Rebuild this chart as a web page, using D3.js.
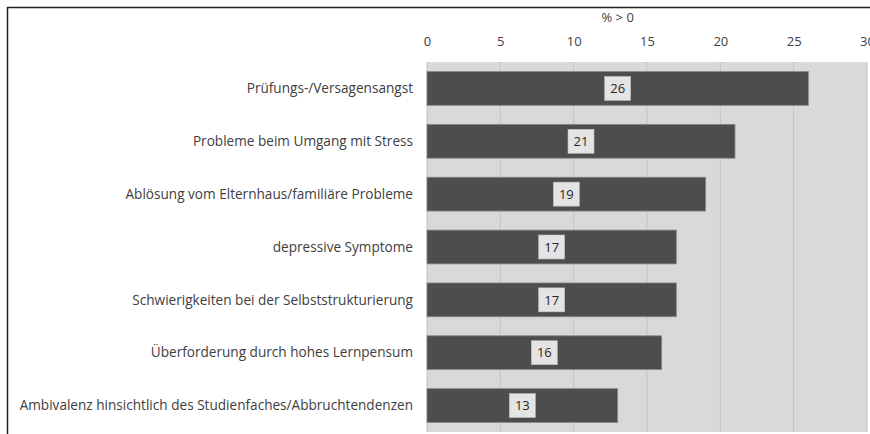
<!DOCTYPE html>
<html>
<head>
<meta charset="UTF-8">
<title>% > 0</title>
<style>
    body { margin: 0; background: #ffffff; font-family: 'Open Sans', sans-serif; }
    .axis path, .axis line { display: none; }
    .axis text { fill: #404040; font-size: 13px; font-family: 'Open Sans', sans-serif; }
    .cat { fill: #404040; font-size: 13.6px; }
</style>
</head>
<body>
<script src="https://d3js.org/d3.v7.min.js"></script>
<script>
    const categories = [
        'Prüfungs-/Versagensangst',
        'Probleme beim Umgang mit Stress',
        'Ablösung vom Elternhaus/familiäre Probleme',
        'depressive Symptome',
        'Schwierigkeiten bei der Selbststrukturierung',
        'Überforderung durch hohes Lernpensum',
        'Ambivalenz hinsichtlich des Studienfaches/Abbruchtendenzen'
    ];
    const values = [26, 21, 19, 17, 17, 16, 13];
    const ticks = [0, 5, 10, 15, 20, 25, 30];
    const axisTitle = '% > 0';

    const W = 870, H = 434;
    const plot = { left: 427, right: 867, top: 62, bottom: 432 };

    const svg = d3.select('body').append('svg')
        .attr('width', W)
        .attr('height', H);

    // frame lines (top and left)
    svg.append('line')
        .attr('x1', 7).attr('y1', 7.5).attr('x2', W).attr('y2', 7.5)
        .attr('stroke', '#222').attr('stroke-width', 1.5);
    svg.append('line')
        .attr('x1', 7.5).attr('y1', 7).attr('x2', 7.5).attr('y2', H)
        .attr('stroke', '#222').attr('stroke-width', 1.5);

    const x = d3.scaleLinear().domain([0, 30]).range([plot.left, plot.right]);
    const y = d3.scaleBand().domain(categories).range([plot.top, plot.bottom]).paddingInner(0.36).paddingOuter(0.18);

    // plot background
    svg.append('rect')
        .attr('x', plot.left).attr('y', plot.top)
        .attr('width', plot.right - plot.left).attr('height', plot.bottom - plot.top)
        .attr('fill', '#d9d9d9');

    // gridlines
    svg.append('g').selectAll('line')
        .data(ticks)
        .join('line')
        .attr('x1', d => x(d)).attr('x2', d => x(d))
        .attr('y1', plot.top).attr('y2', plot.bottom)
        .attr('stroke', '#c4c4c4').attr('stroke-width', 1);

    // top axis
    svg.append('g')
        .attr('class', 'axis')
        .attr('transform', `translate(0,${plot.top - 16})`)
        .call(d3.axisTop(x).tickValues(ticks).tickSize(0).tickPadding(0));

    svg.append('text')
        .attr('x', x(13))
        .attr('y', 22)
        .attr('text-anchor', 'middle')
        .attr('fill', '#404040')
        .style('font-size', '13px')
        .text(axisTitle);

    // category labels
    svg.append('g').selectAll('text')
        .data(categories)
        .join('text')
        .attr('class', 'cat')
        .attr('x', plot.left - 14)
        .attr('y', d => y(d) + y.bandwidth() / 2)
        .attr('dy', '0.35em')
        .attr('text-anchor', 'end')
        .text(d => d);

    const rows = categories.map((c, i) => ({ cat: c, value: values[i] }));

    // bars
    svg.append('g').selectAll('rect')
        .data(rows)
        .join('rect')
        .attr('x', x(0))
        .attr('y', d => y(d.cat))
        .attr('width', d => x(d.value) - x(0))
        .attr('height', y.bandwidth())
        .attr('fill', '#4d4d4d')
        .attr('stroke', '#8a8a8a')
        .attr('stroke-width', 0.8);

    // value label boxes
    const lbl = svg.append('g').selectAll('g')
        .data(rows)
        .join('g')
        .attr('transform', d => `translate(${x(d.value / 2)},${y(d.cat) + y.bandwidth() / 2})`);

    lbl.append('rect')
        .attr('x', -13).attr('y', -12)
        .attr('width', 26).attr('height', 24)
        .attr('fill', '#e4e4e4')
        .attr('stroke', '#bdbdbd')
        .attr('stroke-width', 0.6);

    lbl.append('text')
        .attr('text-anchor', 'middle')
        .attr('dy', '0.36em')
        .attr('fill', '#262626')
        .style('font-size', '13px')
        .text(d => d.value);
</script>
</body>
</html>
